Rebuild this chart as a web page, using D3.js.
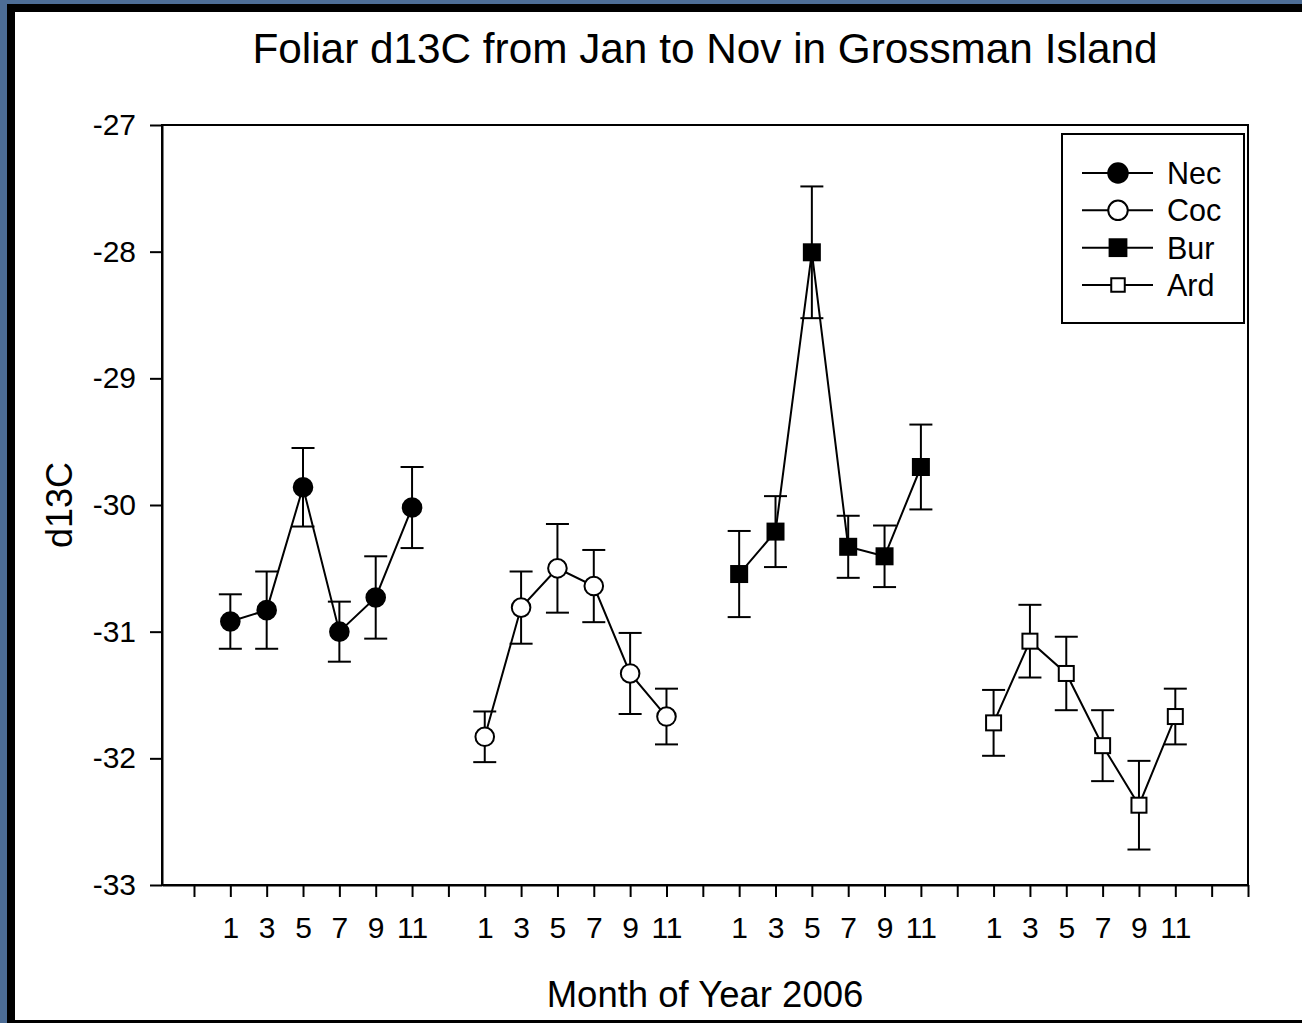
<!DOCTYPE html>
<html>
<head>
<meta charset="utf-8">
<script src="https://cdn.jsdelivr.net/npm/d3@7"></script>
<style>
  html, body { margin: 0; padding: 0; background: #4d6d96; }
  svg { display: block; }
  text { font-family: Arial, "Liberation Sans", sans-serif; fill: #000; }
</style>
</head>
<body>
<svg id="chart" width="1302" height="1023"></svg>
<script>
// ---------- data ----------
const months = [1, 3, 5, 7, 9, 11];
const groupOffsets = [0, 14, 28, 42];          // x offset of each site block
const seriesNames = ["Nec", "Coc", "Bur", "Ard"];
const necMean = [-30.92, -30.83, -29.86, -31.00, -30.73, -30.02];
const necSE   = [0.215, 0.305, 0.31, 0.237, 0.325, 0.32];
const cocMean = [-31.83, -30.81, -30.50, -30.64, -31.33, -31.67];
const cocSE   = [0.20, 0.285, 0.35, 0.285, 0.32, 0.22];
const burMean = [-30.545, -30.21, -28.005, -30.33, -30.405, -29.70];
const burSE   = [0.34, 0.28, 0.52, 0.245, 0.243, 0.335];
const ardMean = [-31.72, -31.075, -31.33, -31.90, -32.37, -31.67];
const ardSE   = [0.26, 0.287, 0.29, 0.28, 0.35, 0.22];
const yTicks = [-27, -28, -29, -30, -31, -32, -33];
const xTickValues = [-1, 1, 3, 5, 7, 9, 11, 13, 15, 17, 19, 21, 23, 25, 27, 29, 31, 33, 35, 37, 39, 41, 43, 45, 47, 49, 51, 53, 55, 57];
const titleText = "Foliar d13C from Jan to Nov in Grossman Island";
const xLabelText = "Month of Year 2006";
const yLabelText = "d13C";

// ---------- layout ----------
const svg = d3.select("#chart");
const W = 1302, H = 1023;
const plot = { left: 162, right: 1248, top: 125, bottom: 885 };

// background frame
svg.append("rect").attr("x", 0).attr("y", 0).attr("width", W).attr("height", H).attr("fill", "#4d6d96");
svg.append("rect").attr("x", 7).attr("y", 4).attr("width", W - 7).attr("height", H - 4).attr("fill", "#000");
svg.append("rect").attr("x", 15).attr("y", 12).attr("width", W - 15).attr("height", H - 12 - 3).attr("fill", "#fff");

const x = d3.scaleLinear().domain([-2.76, 57]).range([plot.left, plot.right]);
const y = d3.scaleLinear().domain([-33, -27]).range([plot.bottom, plot.top]);

// plot box (top and right)
svg.append("rect")
  .attr("x", plot.left).attr("y", plot.top)
  .attr("width", plot.right - plot.left).attr("height", plot.bottom - plot.top)
  .attr("fill", "none").attr("stroke", "#000").attr("stroke-width", 2);

// label lookup for x ticks
const labelFor = v => {
  for (const off of groupOffsets) {
    const m = v - off;
    if (months.includes(m)) return String(m);
  }
  return "";
};

const xAxis = svg.append("g")
  .attr("transform", `translate(0,${plot.bottom})`)
  .call(d3.axisBottom(x).tickValues(xTickValues).tickFormat(labelFor).tickSize(12).tickSizeOuter(0).tickPadding(20));
const yAxis = svg.append("g")
  .attr("transform", `translate(${plot.left},0)`)
  .call(d3.axisLeft(y).tickValues(yTicks).tickFormat(d3.format("d")).tickSize(12).tickSizeOuter(0).tickPadding(14));

[xAxis, yAxis].forEach(g => {
  g.selectAll("path.domain").attr("stroke", "#000").attr("stroke-width", 2);
  g.selectAll(".tick line").attr("stroke", "#000").attr("stroke-width", 2);
  g.selectAll("text").attr("font-size", 30).attr("font-family", "Arial, 'Liberation Sans', sans-serif").attr("fill", "#000");
});
yAxis.selectAll("text").text(d => d3.format("d")(d).replace("−", "-"));

// titles
svg.append("text").attr("x", (plot.left + plot.right) / 2).attr("y", 63)
  .attr("text-anchor", "middle").attr("font-size", 42.3).text(titleText);
svg.append("text").attr("x", (plot.left + plot.right) / 2).attr("y", 1007)
  .attr("text-anchor", "middle").attr("font-size", 36.5).text(xLabelText);
svg.append("text").attr("transform", `translate(72,${(plot.top + plot.bottom) / 2}) rotate(-90)`)
  .attr("text-anchor", "middle").attr("font-size", 36).text(yLabelText);

// ---------- series ----------
const means = [necMean, cocMean, burMean, ardMean];
const ses = [necSE, cocSE, burSE, ardSE];
const shapes = [
  { type: "circle", fill: "#000" },
  { type: "circle", fill: "#fff" },
  { type: "square", fill: "#000", size: 16 },
  { type: "square", fill: "#fff", size: 15 }
];

const line = d3.line().x(d => x(d.x)).y(d => y(d.y));
const capHalf = 11.5;

function drawMarker(g, shape, cx, cy, scale) {
  const s = scale || 1;
  if (shape.type === "circle") {
    g.append("circle").attr("cx", cx).attr("cy", cy).attr("r", 9.3 * s)
      .attr("fill", shape.fill).attr("stroke", "#000").attr("stroke-width", 2);
  } else {
    const sz = shape.size * s;
    g.append("rect").attr("x", cx - sz / 2).attr("y", cy - sz / 2).attr("width", sz).attr("height", sz)
      .attr("fill", shape.fill).attr("stroke", "#000").attr("stroke-width", 2);
  }
}

means.forEach((mv, si) => {
  const pts = mv.map((v, i) => ({ x: months[i] + groupOffsets[si], y: v, se: ses[si][i] }));
  const g = svg.append("g");
  g.append("path").datum(pts).attr("d", line).attr("fill", "none").attr("stroke", "#000").attr("stroke-width", 2);
  pts.forEach(p => {
    const px = x(p.x), yt = y(p.y + p.se), yb = y(p.y - p.se);
    g.append("line").attr("x1", px).attr("x2", px).attr("y1", yt).attr("y2", yb).attr("stroke", "#000").attr("stroke-width", 2);
    g.append("line").attr("x1", px - capHalf).attr("x2", px + capHalf).attr("y1", yt).attr("y2", yt).attr("stroke", "#000").attr("stroke-width", 2);
    g.append("line").attr("x1", px - capHalf).attr("x2", px + capHalf).attr("y1", yb).attr("y2", yb).attr("stroke", "#000").attr("stroke-width", 2);
  });
  pts.forEach(p => drawMarker(g, shapes[si], x(p.x), y(p.y)));
});

// ---------- legend ----------
const lg = { left: 1062, right: 1244, top: 134, bottom: 323 };
svg.append("rect").attr("x", lg.left).attr("y", lg.top).attr("width", lg.right - lg.left).attr("height", lg.bottom - lg.top)
  .attr("fill", "#fff").attr("stroke", "#000").attr("stroke-width", 2);
const legendRowY = d3.scalePoint().domain(seriesNames).range([173, 285]);
seriesNames.forEach((name, si) => {
  const cy = legendRowY(name);
  const g = svg.append("g");
  g.append("line").attr("x1", 1082).attr("x2", 1153).attr("y1", cy).attr("y2", cy).attr("stroke", "#000").attr("stroke-width", 2);
  const sc = si === 3 ? 0.9 : 1.05;
  drawMarker(g, shapes[si], 1118, cy, sc);
  g.append("text").attr("x", 1167).attr("y", cy + 11).attr("font-size", 30.5).text(name);
});
</script>
</body>
</html>
